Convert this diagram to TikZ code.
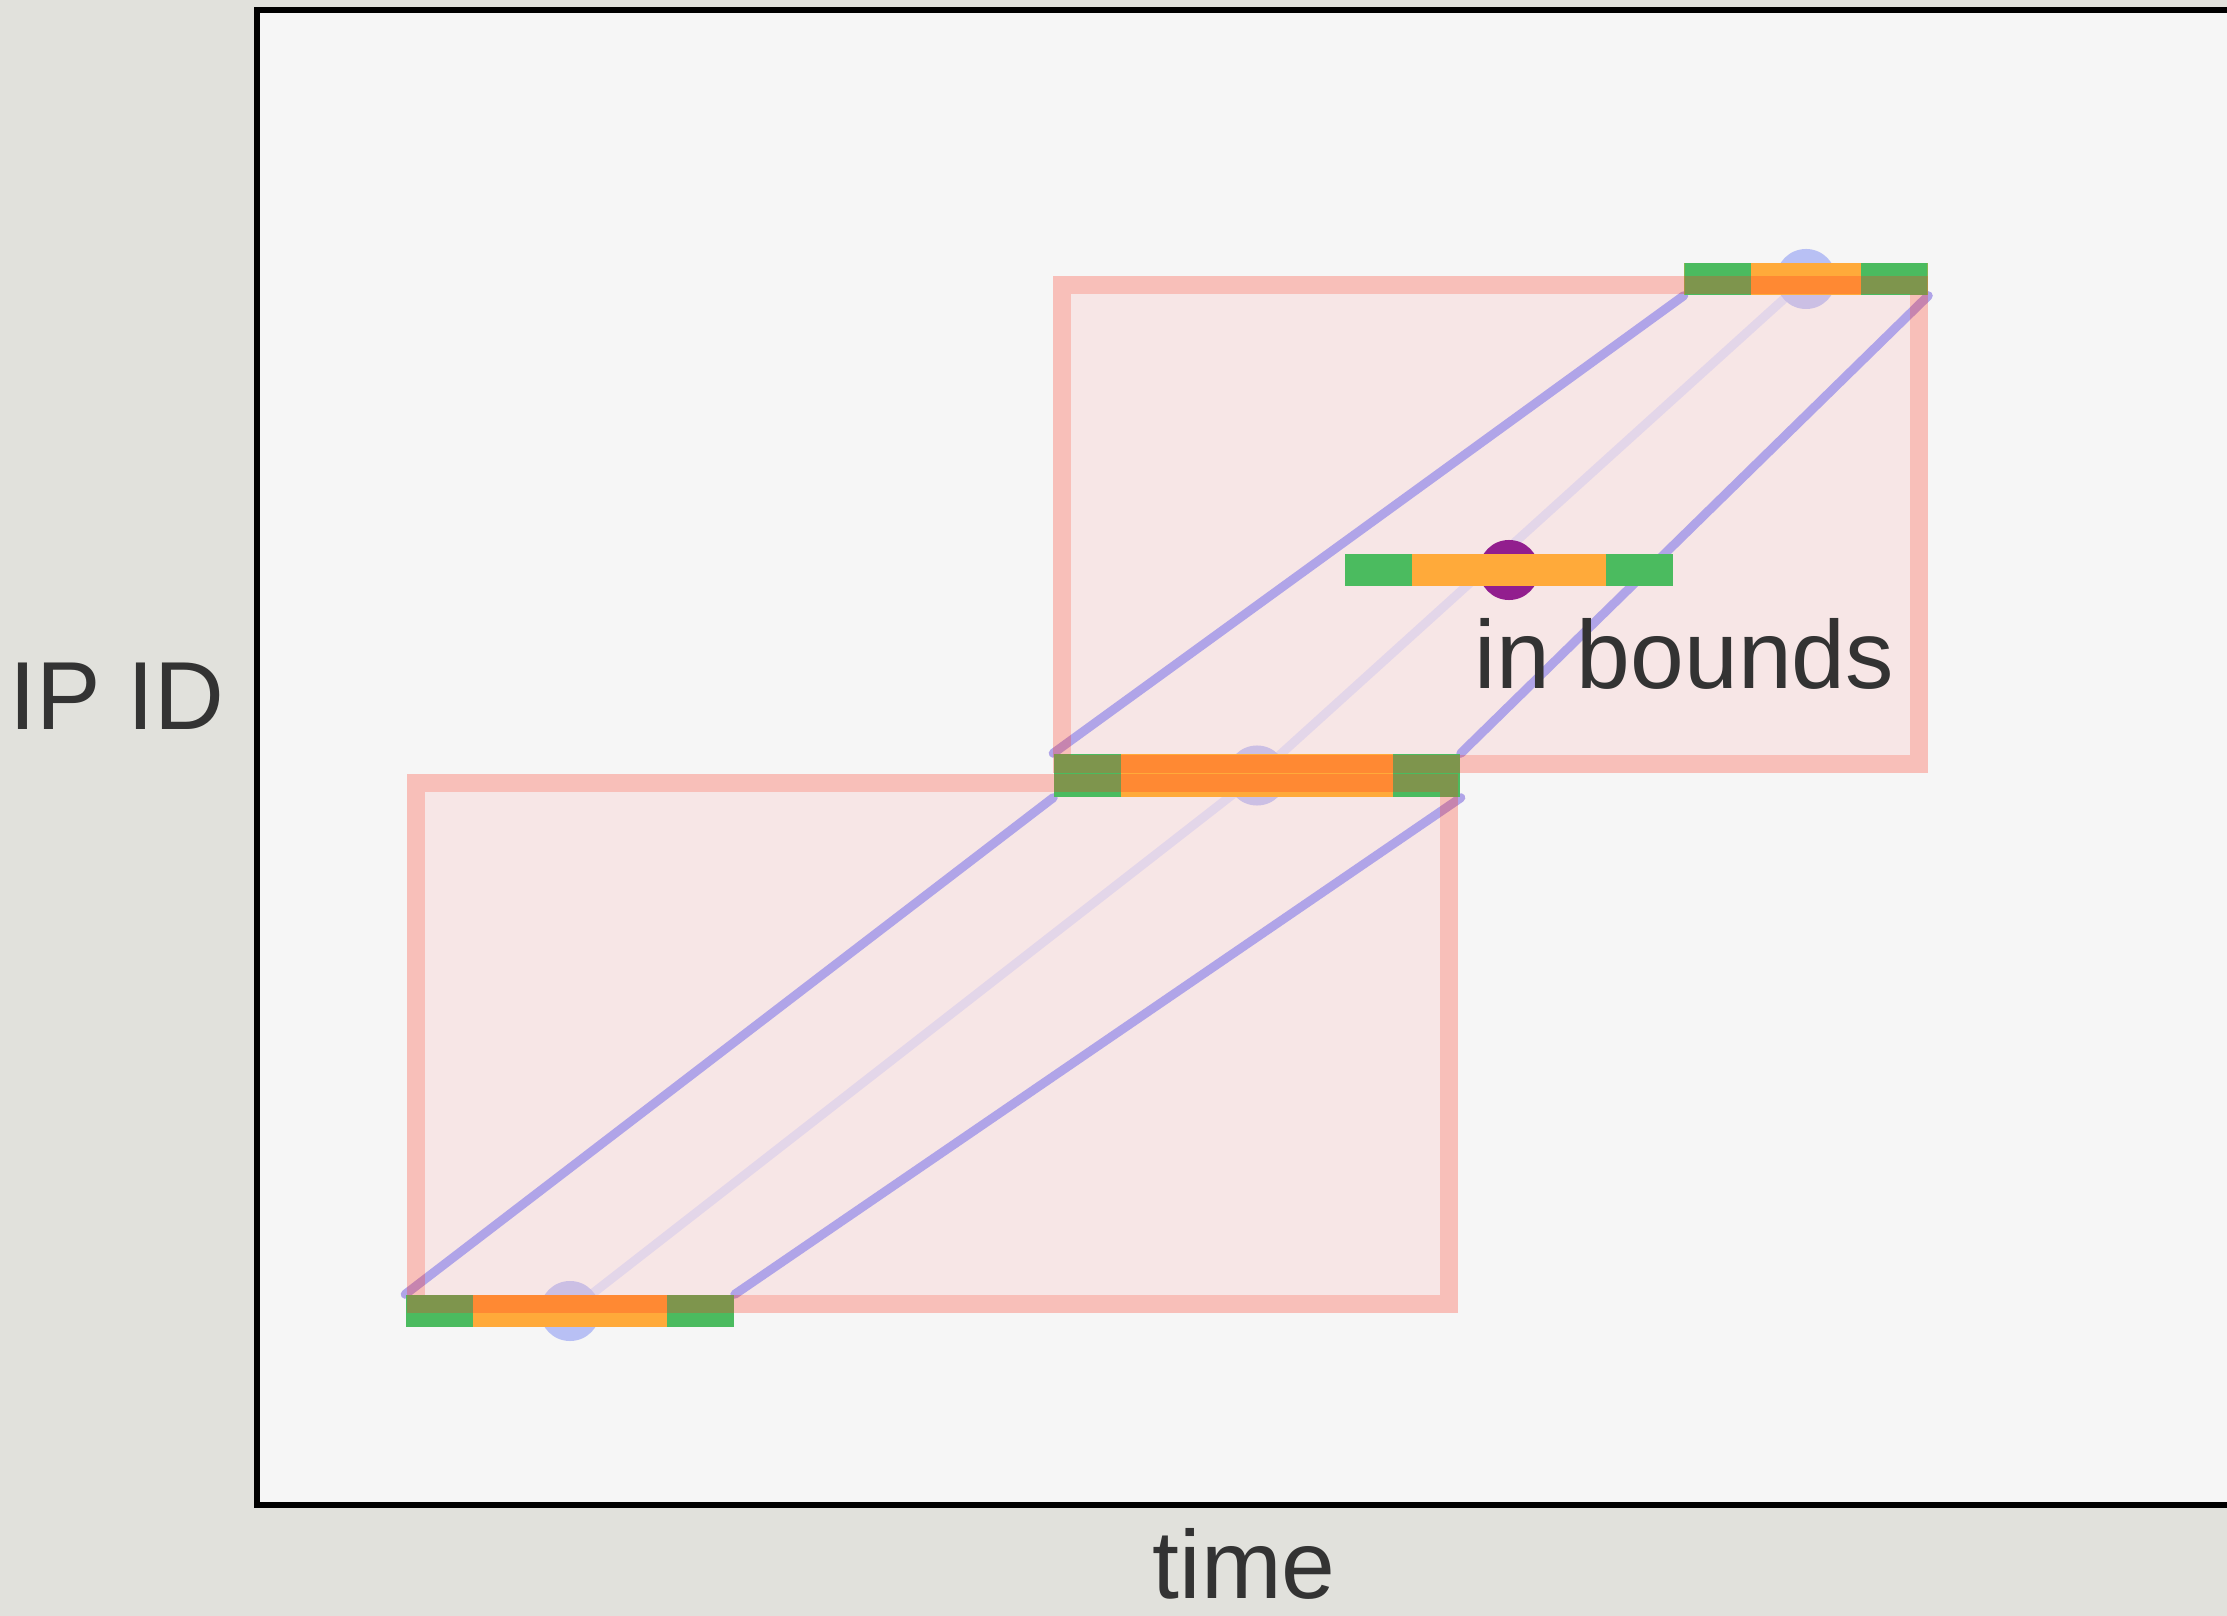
\documentclass[tikz,border=0pt]{standalone}
\usepackage{fontspec}
\setmainfont{Liberation Sans}
\usetikzlibrary{positioning}
\definecolor{Paper}{HTML}{E1E1DC}
\definecolor{PlotBg}{HTML}{F6F6F6}
\definecolor{BoundFill}{HTML}{FDBDBD}
\definecolor{BoundEdge}{HTML}{FF3723}
\definecolor{Track}{HTML}{B0A4E8}
\definecolor{Guess}{HTML}{DAE0FB}
\definecolor{Probe}{HTML}{B8C0F4}
\definecolor{Hit}{HTML}{921E8E}
\definecolor{Slack}{HTML}{4BBB5F}
\definecolor{Window}{HTML}{FFAA3A}
\definecolor{Ink}{HTML}{333333}
\pgfdeclarelayer{back}
\pgfdeclarelayer{mid}
\pgfdeclarelayer{front}
\pgfsetlayers{back,mid,main,front}

\begin{document}
\begin{tikzpicture}[x=0.01cm, y=-0.01cm,
  ipbar/.style={rectangle, inner sep=0pt, minimum height=0.32cm, fill=Window,
    path picture={
      \fill[Slack] (path picture bounding box.south west) rectangle ([xshift=0.67cm]path picture bounding box.north west);
      \fill[Slack] (path picture bounding box.south east) rectangle ([xshift=-0.67cm]path picture bounding box.north east);
    }},
  track/.style={draw=Track, line width=0.09cm, line cap=round},
  guess/.style={draw=Guess, line width=0.09cm},
  probe/.style={fill=Probe},
  boundfill/.style={fill=BoundFill, fill opacity=0.28},
  boundedge/.style={draw=BoundEdge, draw opacity=0.285, line width=0.18cm},
  lbl/.style={text=Ink, font=\fontsize{27.5}{32}\selectfont, inner sep=0pt}
]
  \useasboundingbox (0,0) rectangle (2227,1616);
  \clip (0,0) rectangle (2227,1616);

  % probe centres
  \coordinate (pb) at (570,1311);
  \coordinate (pm) at (1257,775.5);
  \coordinate (pt) at (1806,279);
  \coordinate (ph) at (1509,570);

  \begin{pgfonlayer}{back}
    \fill[Paper] (0,0) rectangle (2227,1616);
    \fill[PlotBg] (257,10) rectangle (2240,1505);
    \draw[guess] (pb) -- (pm) -- (pt);
    \foreach \p in {pb,pm,pt}
      \fill[probe] (\p) circle[radius=0.3cm];
    % bound boxes (fill)
    \fill[boundfill] (425,792) rectangle (1440,1295);
    \fill[boundfill] (1071,294) rectangle (1910,755);
  \end{pgfonlayer}

  \node[ipbar, minimum width=3.28cm] (bb) at (pb) {};
  \node[ipbar, minimum width=4.06cm, minimum height=0.43cm] (bm) at (pm) {};
  \node[ipbar, minimum width=2.43cm] (bt) at (pt) {};

  \begin{pgfonlayer}{mid}
    \draw[track] (bb.north west) -- (bm.south west);
    \draw[track] (bm.north west) -- (bt.south west);
    \draw[track] (bb.north east) -- (bm.south east);
    \draw[track] (bm.north east) -- (bt.south east);
  \end{pgfonlayer}

  \fill[Hit] (ph) circle[radius=0.3cm];
  \node[ipbar, minimum width=3.28cm] (bh) at (ph) {};

  \begin{pgfonlayer}{front}
    % bound boxes (edge)
    \draw[boundedge] (416,783) rectangle (1449,1304);
    \draw[boundedge] (1062,285) rectangle (1919,764);
    \draw[line width=0.06cm] (257,10) rectangle (2240,1505);

    \node[lbl, anchor=base] (ylab) at (117,729) {IP ID};
    \node[lbl, anchor=base] (xlab) at (1244,1598) {time};
    \node[lbl, anchor=base west] (inb) at (1474,689) {in bounds};
  \end{pgfonlayer}
\end{tikzpicture}
\end{document}
